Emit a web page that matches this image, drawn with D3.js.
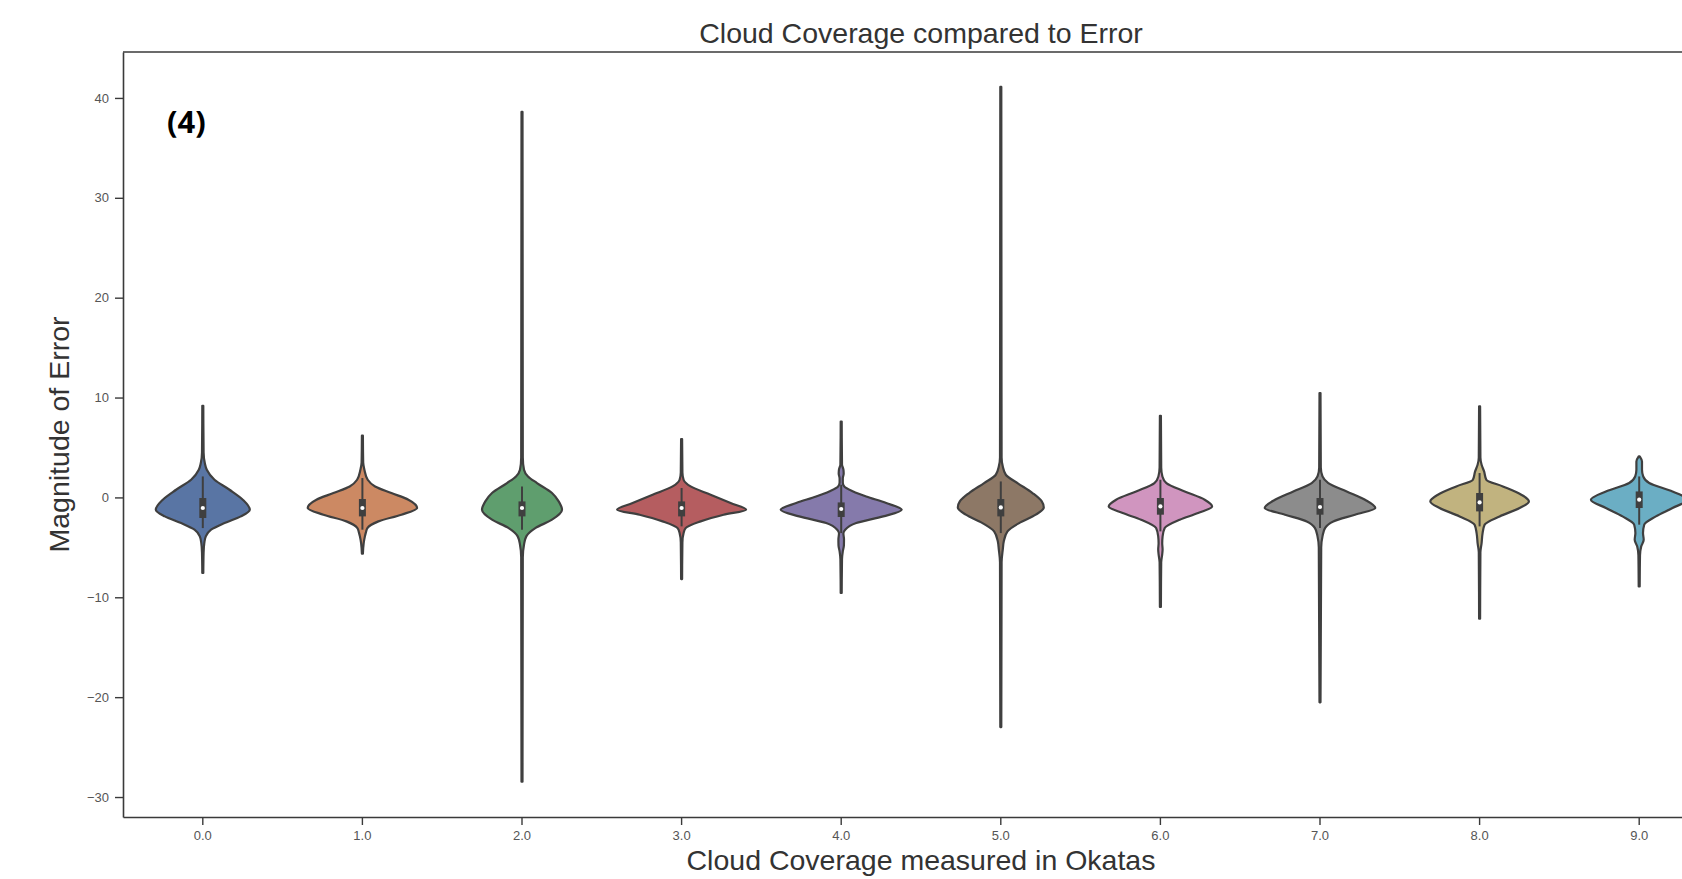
<!DOCTYPE html>
<html>
<head>
<meta charset="utf-8">
<script src="https://cdn.jsdelivr.net/npm/d3@7"></script>
<style>
  html, body { margin: 0; padding: 0; background: #ffffff; }
  svg { display: block; }
  text { font-family: "Liberation Sans", Arial, sans-serif; }
</style>
</head>
<body>
<svg id="chart" width="1682" height="879"></svg>
<script>
// Cloud coverage classes (okta) shown on the x axis
const categories = ["0.0", "1.0", "2.0", "3.0", "4.0", "5.0", "6.0", "7.0", "8.0", "9.0"];

// Fill colours per class (seaborn "deep", desaturated)
const fills = ["#5975a4", "#cc8963", "#5f9e6e", "#b55d60", "#857aab",
               "#8d7866", "#d095bf", "#8c8c8c", "#c1b37f", "#6baec4"];

// Kernel density outline per class: [error value, relative density]
const density0 = [[9.17,0.005],[4.5,0.008],[3.44,0.02],[2.77,0.04],[1.77,0.117],[0.77,0.267],[-0.23,0.40],[-1.23,0.47],[-1.9,0.38],[-2.57,0.217],[-3.23,0.083],[-3.9,0.03],[-4.57,0.015],[-5.5,0.008],[-7.57,0.005]];
const density1 = [[6.18,0.005],[3.5,0.008],[2.77,0.02],[1.77,0.053],[1.1,0.127],[0.44,0.29],[-0.23,0.46],[-1.06,0.547],[-1.73,0.39],[-2.4,0.16],[-3.07,0.05],[-3.5,0.035],[-3.9,0.025],[-4.57,0.013],[-5.64,0.005]];
const density2 = [[38.6,0.005],[4.0,0.008],[2.77,0.02],[2.1,0.06],[1.44,0.15],[0.44,0.30],[-0.4,0.367],[-1.23,0.40],[-2.23,0.30],[-3.07,0.133],[-3.9,0.043],[-4.74,0.02],[-6.0,0.008],[-28.47,0.005]];
const density3 = [[5.85,0.005],[2.5,0.008],[1.77,0.02],[1.1,0.09],[0.27,0.29],[-0.56,0.49],[-1.23,0.645],[-1.73,0.42],[-2.4,0.19],[-3.07,0.04],[-3.57,0.02],[-4.5,0.008],[-8.18,0.005]];
const density4 = [[7.6,0.005],[3.3,0.008],[2.8,0.022],[2.4,0.025],[1.9,0.016],[1.5,0.016],[1.1,0.03],[0.6,0.12],[0.1,0.25],[-0.56,0.45],[-1.23,0.605],[-1.9,0.42],[-2.57,0.15],[-3.23,0.04],[-3.6,0.022],[-4.2,0.028],[-4.8,0.027],[-5.4,0.016],[-6.2,0.008],[-9.57,0.005]];
const density5 = [[41.1,0.005],[4.0,0.008],[3.1,0.02],[2.27,0.05],[1.44,0.167],[0.44,0.317],[-0.4,0.41],[-1.0,0.43],[-1.73,0.35],[-2.57,0.183],[-3.4,0.067],[-4.4,0.03],[-5.2,0.02],[-6.5,0.008],[-23.0,0.005]];
const density6 = [[8.18,0.005],[3.0,0.008],[2.1,0.02],[1.44,0.06],[0.6,0.243],[-0.23,0.443],[-0.9,0.517],[-1.56,0.377],[-2.23,0.193],[-3.07,0.043],[-3.9,0.022],[-4.6,0.018],[-5.2,0.022],[-5.7,0.018],[-6.5,0.008],[-10.97,0.005]];
const density7 = [[10.45,0.005],[3.0,0.008],[2.1,0.025],[1.44,0.083],[0.6,0.267],[-0.23,0.45],[-1.06,0.553],[-1.73,0.35],[-2.4,0.133],[-3.07,0.05],[-3.9,0.025],[-5.0,0.012],[-20.52,0.005]];
const density8 = [[9.11,0.005],[4.0,0.008],[3.27,0.02],[2.6,0.045],[1.77,0.067],[1.1,0.233],[0.27,0.417],[-0.4,0.493],[-1.06,0.40],[-1.9,0.20],[-2.73,0.05],[-3.57,0.03],[-4.57,0.02],[-5.5,0.008],[-12.15,0.005]];
const density9 = [[4.11,0.005],[3.6,0.028],[2.77,0.028],[2.1,0.04],[1.44,0.10],[0.6,0.333],[-0.23,0.483],[-1.06,0.333],[-1.9,0.167],[-2.73,0.05],[-3.57,0.038],[-4.24,0.045],[-4.9,0.02],[-5.8,0.008],[-8.91,0.005]];
const densities = [density0, density1, density2, density3, density4,
                   density5, density6, density7, density8, density9];

// Inner box statistics per class
const upperQuartile = [-0.06, -0.16, -0.4, -0.4, -0.5, -0.16, -0.06, -0.06, 0.44, 0.6];
const medians       = [-1.06, -1.06, -1.06, -1.06, -1.16, -1.0, -0.9, -0.96, -0.5, -0.23];
const lowerQuartile = [-2.06, -1.9, -1.9, -1.9, -1.96, -1.9, -1.73, -1.73, -1.4, -1.06];
const whiskerHigh   = [2.1, 1.94, 1.1, 0.94, 1.27, 1.6, 1.77, 1.77, 2.44, 2.1];
const whiskerLow    = [-3.07, -3.23, -3.23, -2.9, -3.57, -3.57, -3.4, -3.07, -2.9, -2.73];

// Axis ticks
const yTicks = [-30, -20, -10, 0, 10, 20, 30, 40];

const svg = d3.select("#chart");
const W = 1682, H = 879;
const plot = { left: 123, top: 52, right: 1719, bottom: 817 };

svg.append("rect").attr("width", W).attr("height", H).attr("fill", "#ffffff");

const x = d3.scaleBand().domain(categories).range([plot.left, plot.right]).padding(0);
const y = d3.scaleLinear().domain([-32, 44.6]).range([plot.bottom, plot.top]);
const halfWidth = d3.scaleLinear().domain([0, 1]).range([0, 100]);

const ink = "#3f3f3f";

// Violins
const g = svg.append("g");
categories.forEach((cat, i) => {
  const cx = x(cat) + x.bandwidth() / 2;
  const pts = densities[i];
  const area = d3.area()
    .y(d => y(d[0]))
    .x0(d => cx - halfWidth(d[1]))
    .x1(d => cx + halfWidth(d[1]))
    .curve(d3.curveMonotoneY);
  g.append("path")
    .attr("d", area(pts))
    .attr("fill", fills[i])
    .attr("stroke", ink)
    .attr("stroke-width", 2.2)
    .attr("stroke-linejoin", "round");
  // whisker line
  g.append("line")
    .attr("x1", cx).attr("x2", cx)
    .attr("y1", y(whiskerHigh[i])).attr("y2", y(whiskerLow[i]))
    .attr("stroke", ink).attr("stroke-width", 2);
  // interquartile box
  g.append("line")
    .attr("x1", cx).attr("x2", cx)
    .attr("y1", y(upperQuartile[i])).attr("y2", y(lowerQuartile[i]))
    .attr("stroke", ink).attr("stroke-width", 7);
  // median
  g.append("circle")
    .attr("cx", cx).attr("cy", y(medians[i]))
    .attr("r", 2.1)
    .attr("fill", "#ffffff");
});

// Axes
const fmt = d => d < 0 ? "\u2212" + Math.abs(d) : String(d);
const yAxis = svg.append("g")
  .attr("transform", `translate(${plot.left},0)`)
  .call(d3.axisLeft(y).tickValues(yTicks).tickFormat(fmt).tickSize(8).tickPadding(6).tickSizeOuter(0));
const xAxis = svg.append("g")
  .attr("transform", `translate(0,${plot.bottom})`)
  .call(d3.axisBottom(x).tickSize(8).tickPadding(6).tickSizeOuter(0));

[yAxis, xAxis].forEach(a => {
  a.selectAll(".domain").attr("stroke", "#3a3a3a").attr("stroke-width", 1.6);
  a.selectAll(".tick line").attr("stroke", "#3a3a3a").attr("stroke-width", 1.4);
  a.selectAll(".tick text")
    .attr("fill", "#555555")
    .style("font-family", "'Liberation Sans', Arial, sans-serif")
    .style("font-size", "13px");
});

// Top spine
svg.append("line")
  .attr("x1", plot.left).attr("x2", plot.right)
  .attr("y1", plot.top).attr("y2", plot.top)
  .attr("stroke", "#3a3a3a").attr("stroke-width", 1.6);

const midX = (plot.left + plot.right) / 2;

// Title and axis labels
svg.append("text")
  .attr("x", midX).attr("y", 43)
  .attr("text-anchor", "middle")
  .attr("fill", "#333333")
  .style("font-size", "28.5px")
  .text("Cloud Coverage compared to Error");

svg.append("text")
  .attr("x", midX).attr("y", 870)
  .attr("text-anchor", "middle")
  .attr("fill", "#333333")
  .style("font-size", "28.5px")
  .text("Cloud Coverage measured in Okatas");

svg.append("text")
  .attr("transform", `translate(69,${(plot.top + plot.bottom) / 2}) rotate(-90)`)
  .attr("text-anchor", "middle")
  .attr("fill", "#333333")
  .style("font-size", "28.5px")
  .text("Magnitude of Error");

// Panel tag
svg.append("text")
  .attr("x", 167).attr("y", 133)
  .attr("fill", "#000000")
  .style("font-family", "'Open Sans', 'Liberation Sans', sans-serif")
  .style("font-weight", "700")
  .style("font-size", "31px")
  .text("(4)");
</script>
</body>
</html>
